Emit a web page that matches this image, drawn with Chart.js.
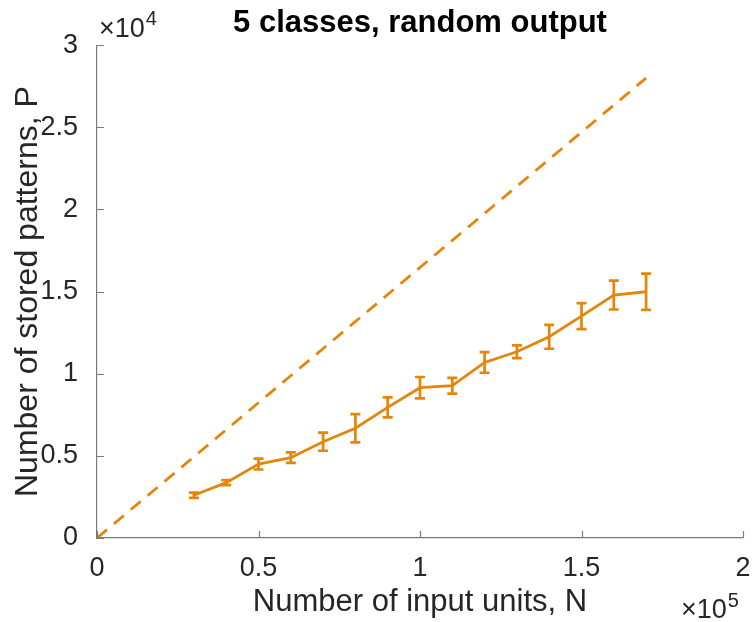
<!DOCTYPE html>
<html>
<head>
<meta charset="utf-8">
<script src="https://cdn.jsdelivr.net/npm/chart.js@4"></script>
<style>
  html, body { margin: 0; padding: 0; background: #fff; }
  #wrap { width: 755px; height: 622px; position: relative; }
</style>
</head>
<body>
<div id="wrap"><canvas id="chart"></canvas></div>
<script>
// data
const inputUnits = [30000, 40000, 50000, 60000, 70000, 80000, 90000, 100000, 110000, 120000, 130000, 140000, 150000, 160000, 170000];
const storedMean = [2600, 3370, 4500, 4890, 5860, 6680, 7950, 9150, 9270, 10690, 11340, 12250, 13510, 14790, 14990];
const storedErr = [160, 150, 330, 320, 550, 860, 610, 650, 480, 630, 390, 730, 790, 880, 1100];
const capacityN = [0, 170000];
const capacityP = [0, 28000];
const xTicks = [0, 50000, 100000, 150000, 200000];
const yTicks = [0, 5000, 10000, 15000, 20000, 25000, 30000];

const orange = '#e5860b';
const axisGrey = '#7a7a7a';
const textCol = '#262626';
const fontFam = '"Liberation Sans", Arial, Helvetica, sans-serif';

// error bars, inward ticks and the exponent labels
const extras = {
    id: 'extras',
    afterDatasetsDraw(chart) {
        const ctx = chart.ctx;
        const xs = chart.scales.x, ys = chart.scales.y;
        ctx.save();
        ctx.strokeStyle = orange;
        ctx.lineWidth = 2.7;
        inputUnits.forEach((n, i) => {
            const px = xs.getPixelForValue(n);
            const top = ys.getPixelForValue(storedMean[i] + storedErr[i]);
            const bot = ys.getPixelForValue(storedMean[i] - storedErr[i]);
            ctx.beginPath();
            ctx.moveTo(px, top); ctx.lineTo(px, bot);
            ctx.moveTo(px - 5, top); ctx.lineTo(px + 5, top);
            ctx.moveTo(px - 5, bot); ctx.lineTo(px + 5, bot);
            ctx.stroke();
        });
        ctx.restore();
    },
    afterDraw(chart) {
        const ctx = chart.ctx;
        const xs = chart.scales.x, ys = chart.scales.y;
        const area = chart.chartArea;
        ctx.save();
        ctx.strokeStyle = axisGrey;
        ctx.lineWidth = 1.2;
        ctx.beginPath();
        yTicks.forEach(v => {
            const py = Math.round(ys.getPixelForValue(v)) + 0.5;
            ctx.moveTo(area.left, py); ctx.lineTo(area.left + 7, py);
        });
        xTicks.forEach(v => {
            const px = Math.round(xs.getPixelForValue(v)) + 0.5;
            ctx.moveTo(px, area.bottom); ctx.lineTo(px, area.bottom - 7);
        });
        ctx.stroke();

        ctx.fillStyle = textCol;
        ctx.textBaseline = 'alphabetic';
        ctx.textAlign = 'left';
        ctx.font = '27px ' + fontFam;
        ctx.fillText('\u00d710', area.left + 2, 37);
        let w = ctx.measureText('\u00d710').width;
        ctx.font = '20px ' + fontFam;
        ctx.fillText('4', area.left + 3 + w, 25);

        ctx.font = '27px ' + fontFam;
        w = ctx.measureText('\u00d710').width;
        const x5 = 681;
        ctx.fillText('\u00d710', x5, 618);
        ctx.font = '20px ' + fontFam;
        ctx.fillText('5', x5 + w + 1, 607);
        ctx.restore();
    }
};

new Chart(document.getElementById('chart'), {
    type: 'line',
    data: {
        datasets: [{
            data: inputUnits.map((n, i) => ({ x: n, y: storedMean[i] })),
            borderColor: orange,
            borderWidth: 2.8,
            pointRadius: 0,
            tension: 0
        }, {
            data: capacityN.map((n, i) => ({ x: n, y: capacityP[i] })),
            borderColor: orange,
            borderWidth: 2.8,
            borderDash: [13, 9],
            pointRadius: 0,
            tension: 0
        }]
    },
    options: {
        responsive: true,
        maintainAspectRatio: false,
        animation: false,
        layout: { padding: { left: 0, right: 12, top: 0, bottom: 0 } },
        plugins: {
            legend: { display: false },
            tooltip: { enabled: false },
            title: {
                display: true,
                fullSize: false,
                text: '5 classes, random output',
                color: '#000',
                font: { family: fontFam, size: 31, weight: 'bold' },
                padding: { top: 5, bottom: 3 }
            }
        },
        scales: {
            x: {
                type: 'linear',
                min: 0, max: 200000,
                afterFit: s => { s.height = 84; s.paddingRight = 0; s.paddingLeft = 0; },
                afterBuildTicks: s => { s.ticks = xTicks.map(v => ({ value: v })); },
                grid: { display: false },
                border: { display: true, color: axisGrey, width: 1.2 },
                ticks: {
                    color: textCol,
                    padding: 6,
                    maxRotation: 0,
                    font: { family: fontFam, size: 27 },
                    callback: v => String(v / 100000)
                },
                title: {
                    display: true,
                    text: 'Number of input units, N',
                    color: textCol,
                    font: { family: fontFam, size: 31 },
                    padding: { top: 0, bottom: 1 }
                }
            },
            y: {
                type: 'linear',
                min: 0, max: 30000,
                afterFit: s => { s.width = 97; },
                afterBuildTicks: s => { s.ticks = yTicks.map(v => ({ value: v })); },
                grid: { display: false },
                border: { display: true, color: axisGrey, width: 1.2 },
                ticks: {
                    color: textCol,
                    padding: 11,
                    font: { family: fontFam, size: 27 },
                    callback: v => String(v / 10000)
                },
                title: {
                    display: true,
                    text: 'Number of stored patterns, P',
                    color: textCol,
                    font: { family: fontFam, size: 32 },
                    padding: { top: 9, bottom: 0 }
                }
            }
        }
    },
    plugins: [extras]
});
</script>
</body>
</html>
